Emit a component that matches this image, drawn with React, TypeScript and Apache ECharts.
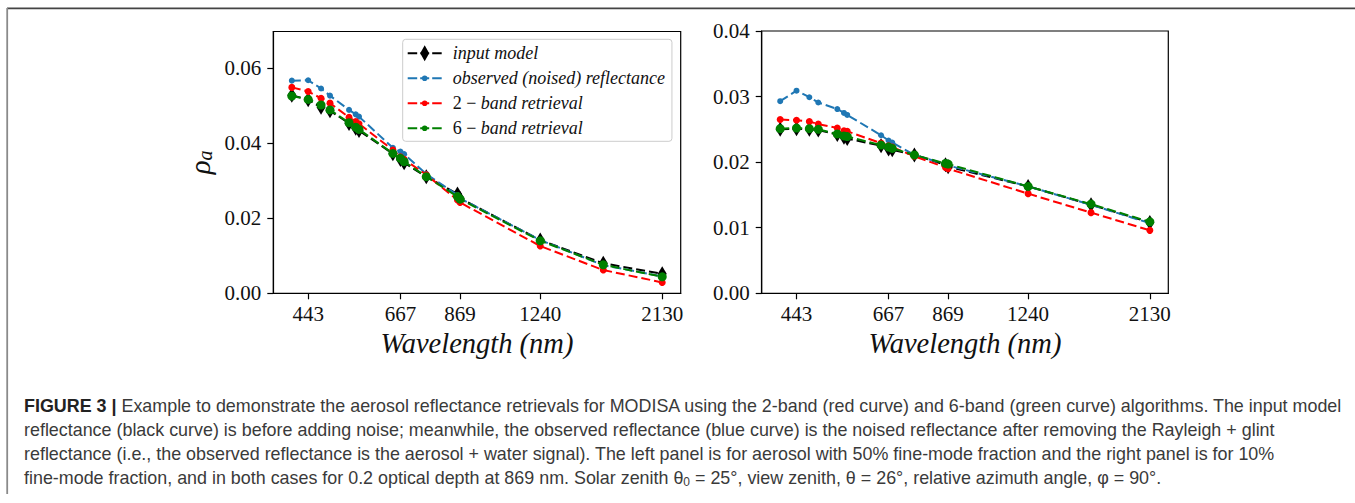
import React, { useEffect, useRef } from "react";
import * as echarts from "echarts";

const wavelengths = [412, 443, 469, 488, 531, 547, 555, 645, 667, 678, 748, 859, 869, 1240, 1640, 2130];
const xTicks = [443, 667, 869, 1240, 2130];
const yTicksL = [0, 0.02, 0.04, 0.06];
const yTicksR = [0, 0.01, 0.02, 0.03, 0.04];

// Left panel (50% fine-mode fraction)
const inputL = [0.0528, 0.0516, 0.0496, 0.0487, 0.0453, 0.044, 0.0434, 0.0372, 0.0357, 0.0348, 0.0311, 0.0265, 0.0253, 0.0142, 0.008, 0.0052];
const obsL = [0.0567, 0.0568, 0.0546, 0.0527, 0.0489, 0.0477, 0.0471, 0.0388, 0.0378, 0.0371, 0.0318, 0.0262, 0.0253, 0.0142, 0.0075, 0.0045];
const twoL = [0.0549, 0.0538, 0.052, 0.0507, 0.0469, 0.0458, 0.0452, 0.0382, 0.0364, 0.0357, 0.0316, 0.0249, 0.0242, 0.0126, 0.0062, 0.0029];
const sixL = [0.0526, 0.0517, 0.0502, 0.0489, 0.0455, 0.0443, 0.0437, 0.0373, 0.036, 0.0351, 0.0311, 0.0258, 0.0251, 0.014, 0.0076, 0.0044];

// Right panel (10% fine-mode fraction)
const inputR = [0.025, 0.0251, 0.025, 0.0249, 0.0242, 0.0238, 0.0236, 0.0225, 0.022, 0.0219, 0.0211, 0.0196, 0.0193, 0.0163, 0.0135, 0.0108];
const obsR = [0.0293, 0.0309, 0.0299, 0.0291, 0.0281, 0.0275, 0.0272, 0.0241, 0.0233, 0.023, 0.0211, 0.0197, 0.0195, 0.0163, 0.0135, 0.0107];
const twoR = [0.0265, 0.0264, 0.0262, 0.0258, 0.0252, 0.0248, 0.0247, 0.0229, 0.0225, 0.0223, 0.0209, 0.0192, 0.019, 0.0152, 0.0123, 0.0096];
const sixR = [0.0251, 0.0252, 0.0251, 0.025, 0.0243, 0.024, 0.0239, 0.0226, 0.0223, 0.0221, 0.0211, 0.0198, 0.0197, 0.0163, 0.0136, 0.0109];

const names = ["input model", "observed (noised) reflectance", "2 − band retrieval", "6 − band retrieval"];
const colors = ["#000000", "#1f77b4", "#ff0000", "#008000"];

const captionLines = [
  "{b|FIGURE 3 |} Example to demonstrate the aerosol reflectance retrievals for MODISA using the 2-band (red curve) and 6-band (green curve) algorithms. The input model",
  "reflectance (black curve) is before adding noise; meanwhile, the observed reflectance (blue curve) is the noised reflectance after removing the Rayleigh + glint",
  "reflectance (i.e., the observed reflectance is the aerosol + water signal). The left panel is for aerosol with 50% fine-mode fraction and the right panel is for 10%",
  "fine-mode fraction, and in both cases for 0.2 optical depth at 869 nm. Solar zenith θ{s|0} = 25°, view zenith, θ = 26°, relative azimuth angle, φ = 90°.",
];

const SERIF = "Liberation Serif";

const dashIcon = "M0,7H9.5V9H0Z M12.5,7H21.5V9H12.5Z M24.5,7H34V9H24.5Z";
const circleIcon = dashIcon + " M19.8,8A2.8,2.8,0,1,1,14.2,8A2.8,2.8,0,1,1,19.8,8Z";
const diamondIcon = dashIcon + " M17,0L21.5,8L17,16L12.5,8Z";

function toPairs(vals: number[]) {
  return wavelengths.map((w, i) => [w, vals[i]]);
}

export default function App() {
  const ref = useRef<HTMLDivElement>(null);
  useEffect(() => {
    const chart = echarts.init(ref.current!, null, { renderer: "svg" });
    const grids = [
      { left: 273.3, top: 31.5, width: 407.4, height: 261.8 },
      { left: 761.7, top: 31, width: 406.6, height: 262.3 },
    ];
    const xAxisFor = (gi: number) => ({
      type: "log",
      logBase: 10,
      gridIndex: gi,
      min: 379.5,
      max: 2312,
      axisLine: { show: true, lineStyle: { color: "#000", width: 1.2 } },
      axisTick: { show: true, inside: false, length: 6, customValues: xTicks, lineStyle: { color: "#000", width: 1.2 } },
      minorTick: { show: false },
      splitLine: { show: false },
      axisLabel: {
        customValues: xTicks,
        formatter: (v: number) => String(Math.round(v)),
        fontFamily: SERIF,
        fontSize: 21,
        color: "#111",
        margin: 10,
      },
      name: "Wavelength (nm)",
      nameLocation: "middle",
      nameGap: 34,
      nameTextStyle: { fontFamily: SERIF, fontStyle: "italic", fontSize: 28.5, color: "#111" },
    });
    const yAxisFor = (gi: number, max: number, ticks: number[], withName: boolean) => ({
      type: "value",
      gridIndex: gi,
      min: 0,
      max,
      axisLine: { show: true, lineStyle: { color: "#000", width: 1.2 } },
      axisTick: { show: true, inside: false, length: 6, customValues: ticks, lineStyle: { color: "#000", width: 1.2 } },
      splitLine: { show: false },
      axisLabel: {
        customValues: ticks,
        formatter: (v: number) => v.toFixed(2),
        fontFamily: SERIF,
        fontSize: 21,
        color: "#111",
        margin: 12,
      },
      name: withName ? "{r|ρ}{s|a}" : "",
      nameLocation: "middle",
      nameRotate: 90,
      nameGap: 58,
      nameTextStyle: {
        rich: {
          r: { fontFamily: SERIF, fontStyle: "italic", fontSize: 29, color: "#111" },
          s: { fontFamily: SERIF, fontStyle: "italic", fontSize: 20, color: "#111", verticalAlign: "bottom", padding: [10, 0, 0, 0] },
        },
      },
    });

    const makeSeries = (gi: number, sets: number[][]) =>
      sets.map((vals, k) => ({
        type: "line",
        name: names[k],
        xAxisIndex: gi,
        yAxisIndex: gi,
        data: toPairs(vals),
        symbol: k === 0 ? "diamond" : "circle",
        symbolSize: k === 0 ? [9, 15] : k === 3 ? 9 : k === 2 ? 7 : 6,
        color: colors[k],
        lineStyle: { color: colors[k], width: 2, type: [9, 4] },
        itemStyle: { color: colors[k], borderWidth: 0 },
        emphasis: { disabled: true },
        z: 2 + k,
      }));

    const graphics: any[] = [
      { type: "rect", shape: { x: 7, y: 7.5, width: 1348, height: 1.6 }, style: { fill: "#444" }, silent: true },
      { type: "rect", shape: { x: 7, y: 9.1, width: 1348, height: 1 }, style: { fill: "#cfcfcf" }, silent: true },
      { type: "rect", shape: { x: 6.3, y: 8, width: 1.8, height: 486 }, style: { fill: "#8a8a8a" }, silent: true },
    ];
    captionLines.forEach((line, i) => {
      graphics.push({
        type: "text",
        x: 24,
        y: 406 + i * 24,
        silent: true,
        style: {
          text: line,
          fontFamily: "Liberation Sans",
          fontSize: 17.9,
          fill: "#3a3a3a",
          verticalAlign: "middle",
          align: "left",
          rich: {
            b: { fontFamily: "Liberation Sans", fontSize: 17.9, fontWeight: "bold", fill: "#222" },
            s: { fontFamily: "Liberation Sans", fontSize: 12, fill: "#3a3a3a", padding: [8, 0, 0, 0] },
          },
        },
      });
    });

    chart.setOption({
      animation: false,
      backgroundColor: "#fff",
      grid: grids.map((g) => ({ ...g, show: true, borderColor: "#000", borderWidth: 1.2, backgroundColor: "transparent", containLabel: false })),
      xAxis: [xAxisFor(0), xAxisFor(1)],
      yAxis: [yAxisFor(0, 0.0698, yTicksL, true), yAxisFor(1, 0.04, yTicksR, false)],
      legend: {
        show: true,
        orient: "vertical",
        left: 402.7,
        top: 39.3,
        padding: [5, 7, 4, 5],
        itemWidth: 34,
        itemHeight: 16,
        itemGap: 7,
        backgroundColor: "rgba(255,255,255,0.8)",
        borderColor: "#cccccc",
        borderWidth: 1,
        borderRadius: 3,
        selectedMode: false,
        itemStyle: { borderWidth: 0 },
        textStyle: {
          fontFamily: SERIF,
          fontStyle: "italic",
          fontSize: 18,
          color: "#111",
          padding: [0, 0, 0, 6],
          rich: {
            u: { fontFamily: SERIF, fontStyle: "normal", fontSize: 18, color: "#111" },
            i: { fontFamily: SERIF, fontStyle: "italic", fontSize: 18, color: "#111" },
          },
        },
        formatter: (n: string) => {
          const m = n.match(/^(\d) − (.*)$/);
          return m ? `{u|${m[1]} − }{i|${m[2]}}` : n;
        },
        data: names.map((n, k) => ({ name: n, icon: "path://" + (k === 0 ? diamondIcon : circleIcon) })),
      },
      series: [
        ...makeSeries(0, [inputL, obsL, twoL, sixL]),
        ...makeSeries(1, [inputR, obsR, twoR, sixR]),
      ],
      graphic: graphics,
    } as any);
    return () => chart.dispose();
  }, []);
  return <div ref={ref} style={{ position: "absolute", left: 0, top: 0, width: 1355, height: 503 }} />;
}
